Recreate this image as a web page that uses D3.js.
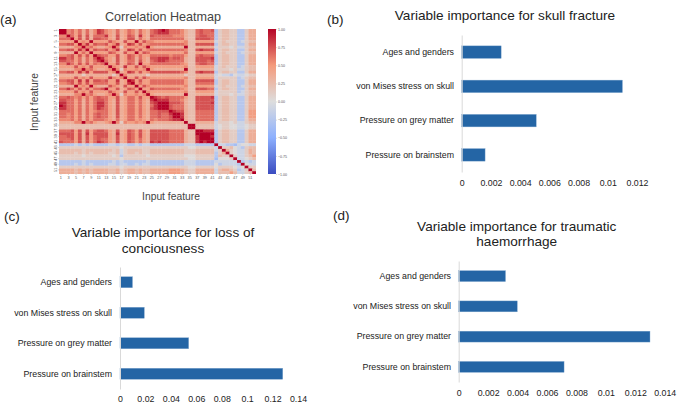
<!DOCTYPE html>
<html><head><meta charset="utf-8">
<script src="https://cdn.jsdelivr.net/npm/d3@7"></script>
<style>html,body{margin:0;padding:0;background:#fff}svg{display:block}text{font-family:"Liberation Sans",Arial,sans-serif}</style>
</head><body><svg id="c" width="685" height="410"></svg>
<script>
// ---- data ----
const featureNames = ["Ages and genders","von Mises stress on skull","Pressure on grey matter","Pressure on brainstem"];
const skullFracture = [0.0027,0.011,0.0051,0.0016];
const lossOfConsciousness = [0.0098,0.0191,0.054,0.128];
const haemorrhage = [0.00318,0.00398,0.013,0.00716];
const ticksB = [0,0.002,0.004,0.006,0.008,0.01,0.012];
const ticksC = [0,0.02,0.04,0.06,0.08,0.1,0.12,0.14];
const ticksD = [0,0.002,0.004,0.006,0.008,0.01,0.012,0.014];
const colorbarTicks = [1,0.75,0.5,0.25,0,-0.25,-0.5,-0.75,-1];
// correlation codes (upper triangle)
const codeValues = {a:-0.35,b:-0.24,c:-0.1,0:0.02,1:0.13,2:0.24,3:0.35,4:0.46,5:0.56,6:0.65,7:0.74,8:0.85,9:1};
const corrRows = [
"9956463635 8754363465 3643678986 6653226766 7b12211bb1 33",
".956463635 8754363465 3643678886 6653226766 6b12211bb1 33",
"..96473736 6684373476 3843766666 5553226776 6b12211bb1 33",
"...9473737 7664373477 3643666666 6663227777 6b12211bb1 33",
"....945494 4447543744 9475544444 4445224444 4c12111bc1 22",
".....95847 6674583487 4745666666 6665227777 7b12211bb1 33",
"......9564 3345951544 5459433333 3339223333 3c11101cc1 22",
".......947 6674583487 4745666666 6665227877 7b12211bb1 33",
"........94 4447643744 9476444444 4446224444 4c12111bc1 22",
".........9 7664473476 4644666665 6664226766 6b12211bb1 33",
".......... 9854373476 3643778886 7763227777 8b12211bb1 33",
".......... .964373466 3743678876 6663227776 7b12211bb1 33",
".......... ..94473476 3944666666 6654226776 6b12211bb1 33",
".......... ...9543844 7475444444 4445224444 4c12111bc1 22",
".......... ....951544 5459433333 3339223333 3c11101cc1 22",
".......... .....93487 4745777777 7765227877 7b12211bb1 33",
".......... ......9533 3331333333 3331223333 3c0ccb0cc0 11",
".......... .......944 7475444444 4445224444 4c11111bc1 22",
".......... ........98 4744666666 6664227777 7b12211bb1 33",
".......... .........9 4644666666 6664226666 6b12211bb1 33",
".......... .......... 9475444444 4445224444 4c12111bc1 22",
".......... .......... .944766666 6654227776 6b12211bb1 33",
".......... .......... ..95444444 4445224444 4c11111bc1 22",
".......... .......... ...9433333 3339223333 3c11101cc1 22",
".......... .......... ....987676 6664227777 8b12211bb1 33",
".......... .......... .....98886 6653227777 7b12211bb1 33",
".......... .......... ......9997 7763227777 8b12211bb1 33",
".......... .......... .......997 6663227777 7b12211bb1 33",
".......... .......... ........97 6663227777 7b12211bb1 33",
".......... .......... .........9 8773226666 6b12211bb1 44",
".......... .......... .......... 9983226666 6b12211bb1 44",
".......... .......... .......... .983226666 6b12211bb1 44",
".......... .......... .......... ..93226666 6b12211bb1 33",
".......... .......... .......... ...9223333 3c11101cc1 22",
".......... .......... .......... ....992222 2c01100cc0 11",
".......... .......... .......... .....92222 2c01100cc0 11",
".......... .......... .......... ......9988 8b12211bb1 33",
".......... .......... .......... .......999 9b12211bb1 33",
".......... .......... .......... ........99 8b12211bb1 33",
".......... .......... .......... .........9 9b12211bb1 33",
".......... .......... .......... .......... 9b12211bb1 33",
".......... .......... .......... .......... .9ccbbac00 cc",
".......... .......... .......... .......... ..91120cb1 22",
".......... .......... .......... .......... ...9310cc1 32",
".......... .......... .......... .......... ....910cc1 32",
".......... .......... .......... .......... .....91cc1 24",
".......... .......... .......... .......... ......9cc0 12",
".......... .......... .......... .......... .......9bc bc",
".......... .......... .......... .......... ........90 cc",
".......... .......... .......... .......... .........9 11",
".......... .......... .......... .......... .......... 92",
".......... .......... .......... .......... .......... .9"
];

// ---- drawing ----
const svg = d3.select("#c");
const defs = svg.append("defs");
defs.append("filter").attr("id","soft").attr("x","-5%").attr("y","-5%").attr("width","110%").attr("height","110%")
  .append("feGaussianBlur").attr("stdDeviation",0.7);
const gradient = defs.append("linearGradient").attr("id","cbar").attr("x1",0).attr("x2",0).attr("y1",0).attr("y2",1);

const coolwarm = d3.scaleLinear().domain([-1,-0.5,0,0.5,1])
  .range(["#3b4cc0","#8db0fe","#dddddd","#f49a7b","#b40426"]);

const ids = d3.range(1,53);
const hx = d3.scaleBand().domain(ids).range([59,256]);
const hy = d3.scaleBand().domain(ids).range([29,174]);
const cells = [];
corrRows.forEach((row,i)=>{
  const chars = row.replace(/ /g,"");
  for(let j=i;j<52;j++){
    const v = codeValues[chars[j]];
    cells.push({r:i+1,c:j+1,v});
    if(i!==j) cells.push({r:j+1,c:i+1,v});
  }
});
const clip = defs.append("clipPath").attr("id","hclip");
clip.append("rect").attr("x",hx.range()[0]).attr("y",hy.range()[0])
  .attr("width",hx.range()[1]-hx.range()[0]).attr("height",hy.range()[1]-hy.range()[0]);
svg.append("g").attr("clip-path","url(#hclip)").append("g").attr("filter","url(#soft)")
  .selectAll("rect").data(cells).join("rect")
  .attr("x",d=>hx(d.c)).attr("y",d=>hy(d.r))
  .attr("width",hx.bandwidth()+0.3).attr("height",hy.bandwidth()+0.3)
  .attr("fill",d=>coolwarm(d.v));

const oddIds = ids.filter(d=>d%2===1);
const hxAxis = svg.append("g").attr("transform","translate(0,174)")
  .call(d3.axisBottom(hx).tickValues(oddIds).tickSize(1).tickPadding(1));
hxAxis.select(".domain").remove();
hxAxis.selectAll("line").attr("stroke","#888").attr("stroke-width",0.3);
hxAxis.selectAll("text").attr("font-size",3.8).attr("fill","#555");
const hyAxis = svg.append("g").attr("transform","translate(59,0)")
  .call(d3.axisLeft(hy).tickValues(oddIds).tickSize(1).tickPadding(1));
hyAxis.select(".domain").remove();
hyAxis.selectAll("line").attr("stroke","#888").attr("stroke-width",0.3);
hyAxis.selectAll("text").attr("font-size",3.8).attr("fill","#555")
  .attr("text-anchor","middle").attr("x",0).attr("dy",0)
  .attr("transform","translate(-2.5,0) rotate(-90)");

// colour bar
const cbScale = d3.scaleLinear().domain([1,-1]).range([29,174]);
colorbarTicks.forEach(t=>gradient.append("stop").attr("offset",(1-t)/2).attr("stop-color",coolwarm(t)));
svg.append("rect").attr("x",268).attr("y",29).attr("width",8).attr("height",145).attr("fill","url(#cbar)");
const cbAxis = svg.append("g").attr("transform","translate(276,0)")
  .call(d3.axisRight(cbScale).tickValues(colorbarTicks).tickSize(1).tickPadding(1)
    .tickFormat(d=>d3.format(".2f")(d).replace("-","\u2212")));
cbAxis.select(".domain").remove();
cbAxis.selectAll("line").attr("stroke","#888").attr("stroke-width",0.3);
cbAxis.selectAll("text").attr("font-size",3.6).attr("fill","#555");

function label(x,y,t,size,anchor,fill){
  return svg.append("text").attr("x",x).attr("y",y).attr("font-size",size)
    .attr("text-anchor",anchor||"middle").attr("fill",fill||"#222").text(t);
}
label(163,21,"Correlation Heatmap",12.6,"middle","#444");
label(171,200,"Input feature",10.3,"middle","#444");
svg.append("text").attr("transform","translate(38,102) rotate(-90)").attr("font-size",10.3)
  .attr("text-anchor","middle").attr("fill","#444").text("Input feature");

label(0,24,"(a)",13.5,"start");
label(327,24,"(b)",13.5,"start");
label(4,221,"(c)",13.5,"start");
label(333,220,"(d)",13.5,"start");

function barPanel(o){
  const x = d3.scaleLinear().domain([0,o.ticks[o.ticks.length-1]]).range([o.x0,o.x1]);
  const y = d3.scaleBand().domain(featureNames).range([o.y0,o.y1]).paddingInner(o.pad).paddingOuter(o.pad/2);
  const g = svg.append("g");
  g.selectAll("rect").data(featureNames).join("rect")
    .attr("x",o.x0).attr("y",d=>y(d))
    .attr("width",(d,i)=>x(o.values[i])-o.x0).attr("height",y.bandwidth())
    .attr("fill","#2465a5").attr("stroke","#7fa6cd").attr("stroke-width",0.4);
  const ya = g.append("g").attr("transform",`translate(${o.x0},0)`)
    .call(d3.axisLeft(y).tickSize(0).tickPadding(o.x0-o.labelEnd));
  ya.select(".domain").attr("stroke","#d9d9d9").attr("stroke-width",1);
  ya.selectAll("text").attr("font-size",8.8).attr("fill","#222");
  const xa = g.append("g").attr("transform",`translate(0,${o.tickY})`)
    .call(d3.axisBottom(x).tickValues(o.ticks).tickSize(0).tickPadding(0).tickFormat(d=>String(d)));
  xa.select(".domain").remove();
  xa.selectAll("text").attr("font-size",8.8).attr("fill","#222").attr("dy","0.35em");
  o.title.forEach((t,i)=>label(o.titleX,o.titleY+i*o.titleStep,t,13.6,"middle","#222"));
}
barPanel({values:skullFracture,ticks:ticksB,x0:461.7,x1:637,y0:35,y1:172,pad:0.635,labelEnd:454,tickY:182.7,
  title:["Variable importance for skull fracture"],titleX:505,titleY:20,titleStep:0});
barPanel({values:lossOfConsciousness,ticks:ticksC,x0:120,x1:298,y0:267,y1:389,pad:0.64,labelEnd:112,tickY:399,
  title:["Variable importance for loss of","conciousness"],titleX:163,titleY:237,titleStep:15.5});
barPanel({values:haemorrhage,ticks:ticksD,x0:458.7,x1:664.7,y0:261,y1:382,pad:0.64,labelEnd:451,tickY:392.7,
  title:["Variable importance for traumatic","haemorrhage"],titleX:516.7,titleY:231,titleStep:15});
</script></body></html>
